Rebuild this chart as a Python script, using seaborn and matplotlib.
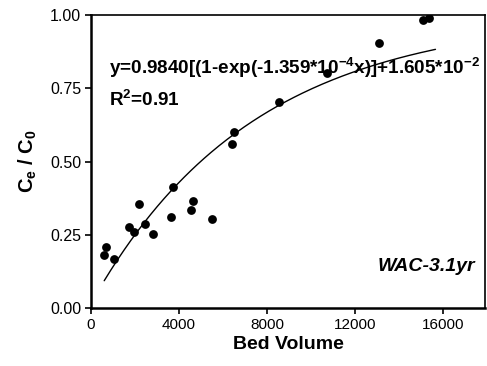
import numpy as np
import pandas as pd
import matplotlib
matplotlib.use("Agg")
import matplotlib.pyplot as plt
import seaborn as sns

# Data
bed_volume = [600, 680, 1060, 1710, 1970, 2170, 2450, 2800, 3620, 3730,
              4530, 4620, 5480, 6420, 6510, 8540, 10710, 13100, 15090, 15360]
ce_c0 = [0.180, 0.208, 0.168, 0.276, 0.258, 0.355, 0.288, 0.253, 0.312, 0.414,
         0.335, 0.366, 0.305, 0.560, 0.600, 0.704, 0.803, 0.903, 0.983, 0.989]

# Fitted model parameters shown in the chart
fit_a = 0.9840
fit_k = 1.359e-4
fit_c = 1.605e-2
fit_range = [600, 15650]

x_ticks = [0, 4000, 8000, 12000, 16000]
y_ticks = [0.00, 0.25, 0.50, 0.75, 1.00]

sns.set_theme(style="white")
plt.rcParams['font.family'] = ['Liberation Sans', 'DejaVu Sans']
plt.rcParams['text.color'] = 'black'
plt.rcParams['axes.labelcolor'] = 'black'
plt.rcParams['xtick.color'] = 'black'
plt.rcParams['ytick.color'] = 'black'
plt.rcParams['mathtext.fontset'] = 'custom'
plt.rcParams['mathtext.rm'] = 'Liberation Sans:bold'
plt.rcParams['mathtext.bf'] = 'Liberation Sans:bold'
plt.rcParams['mathtext.it'] = 'Liberation Sans:bold'
plt.rcParams['mathtext.default'] = 'bf'

fig = plt.figure(figsize=(4.87, 3.66), dpi=100)
ax = fig.add_axes([91/487, 1 - 308/366, (485 - 91)/487, (308 - 15)/366])

df = pd.DataFrame({"x": bed_volume, "y": ce_c0})
xs = np.linspace(fit_range[0], fit_range[1], 200)
fit_df = pd.DataFrame({"x": xs, "y": fit_a * (1 - np.exp(-fit_k * xs)) + fit_c})

sns.lineplot(data=fit_df, x="x", y="y", ax=ax, color="black", linewidth=1.0)
sns.scatterplot(data=df, x="x", y="y", ax=ax, color="black", s=40,
                edgecolor="black", linewidth=0, zorder=3)

ax.set_xlim(0, 17900)
ax.set_ylim(0, 1.0)
ax.set_xticks(x_ticks)
ax.set_yticks(y_ticks)
ax.set_xticklabels([str(t) for t in x_ticks], fontsize=11)
ax.set_yticklabels([f"{t:.2f}" for t in y_ticks], fontsize=11.5)
ax.tick_params(axis='both', direction='out', length=4, width=1.2, colors='black',
               bottom=True, left=True, pad=3)
for s in ax.spines.values():
    s.set_color('black')
    s.set_linewidth(1.2)
for s in ['left', 'bottom']:
    ax.spines[s].set_linewidth(1.8)

ax.set_xlabel("Bed Volume", fontsize=14, fontweight='bold', labelpad=3)
ax.set_ylabel(r"C$_\mathbf{e}$ / C$_\mathbf{0}$", fontsize=14.5, fontweight='bold', labelpad=8)

ax.text(0.045, 0.82, r"y=0.9840[(1-exp(-1.359*10$^{-4}$x)]+1.605*10$^{-2}$",
        transform=ax.transAxes, fontsize=13.6, fontweight='bold', va='center', ha='left')
ax.text(0.045, 0.71, r"R$^{2}$=0.91", transform=ax.transAxes, fontsize=13.6,
        fontweight='bold', va='center', ha='left')
ax.text(0.975, 0.14, "WAC-3.1yr", transform=ax.transAxes, fontsize=14,
        fontweight='bold', fontstyle='italic', ha='right', va='center')

fig.savefig("out.png", dpi=100)
